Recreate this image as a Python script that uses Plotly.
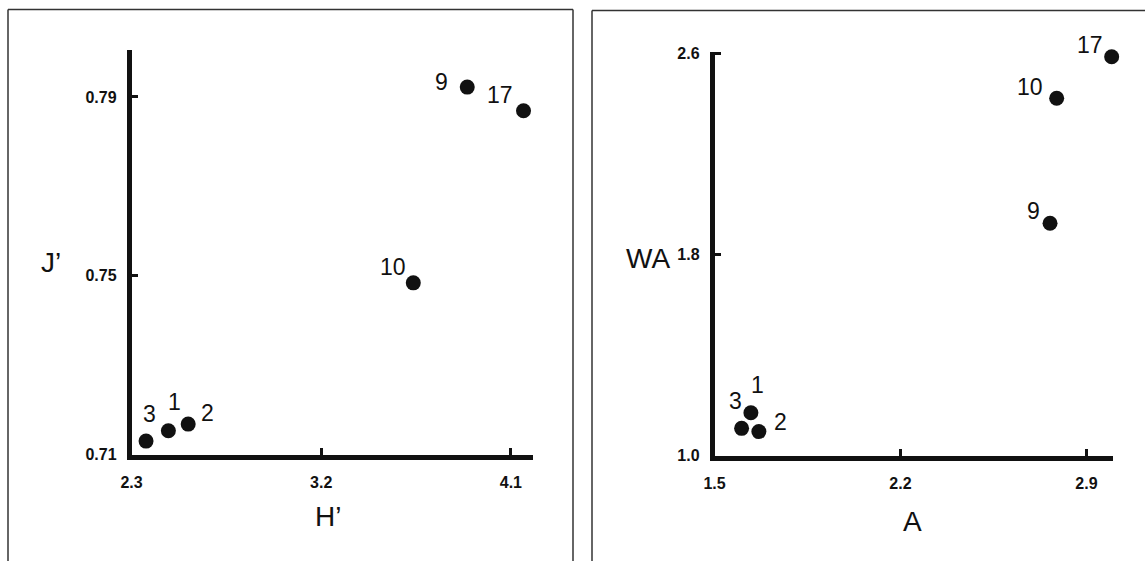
import plotly.graph_objects as go

# ---------------- data ----------------
labels = ["1", "2", "3", "9", "10", "17"]

h_prime = [2.475, 2.569, 2.369, 3.893, 3.637, 4.160]   # H'
j_prime = [0.7153, 0.7168, 0.7130, 0.7922, 0.7484, 0.7869]  # J'

a_vals = [1.637, 1.667, 1.602, 2.763, 2.788, 2.995]    # A
wa_vals = [1.170, 1.095, 1.108, 1.924, 2.421, 2.586]   # WA

left_xticks = [2.3, 3.2, 4.1]
left_yticks = [0.71, 0.75, 0.79]
right_xticks = [1.5, 2.2, 2.9]
right_yticks = [1.0, 1.8, 2.6]
left_xtick_text = ["2.3", "3.2", "4.1"]
left_ytick_text = ["0.71", "0.75", "0.79"]
right_xtick_text = ["1.5", "2.2", "2.9"]
right_ytick_text = ["1.0", "1.8", "2.6"]

# ---------------- style ----------------
W, H = 1145, 561
left_label_shift = {"1": (6, 29), "2": (19, 11), "3": (3, 27), "9": (-26, 5), "10": (-20, 16), "17": (-24, 16)}
right_label_shift = {"1": (7, 28), "2": (22, 10), "3": (-6, 27), "9": (-17, 12), "10": (-27, 11), "17": (-22, 12)}

tick_font = dict(family="Liberation Sans, Arial, sans-serif", size=16, color="#111", weight="bold")
label_font = dict(family="Liberation Sans Narrow, Liberation Sans, Arial, sans-serif", size=23, color="#111")
title_font = dict(family="Liberation Sans, Arial, sans-serif", size=28, color="#111")

def px_x(p):
    return p / W

def px_y(p):
    return 1 - p / H

fig = go.Figure()
fig.add_trace(go.Scatter(x=h_prime, y=j_prime, mode="markers", xaxis="x", yaxis="y", cliponaxis=False,
                         marker=dict(size=15, color="#111"), hoverinfo="skip"))
fig.add_trace(go.Scatter(x=a_vals, y=wa_vals, mode="markers", xaxis="x2", yaxis="y2", cliponaxis=False,
                         marker=dict(size=15, color="#111"), hoverinfo="skip"))

annotations = []
for lab, xv, yv in zip(labels, h_prime, j_prime):
    dx, dy = left_label_shift[lab]
    annotations.append(dict(x=xv, y=yv, xref="x", yref="y", text=lab, showarrow=False,
                            xshift=dx, yshift=dy, font=label_font, xanchor="center", yanchor="middle"))
for lab, xv, yv in zip(labels, a_vals, wa_vals):
    dx, dy = right_label_shift[lab]
    annotations.append(dict(x=xv, y=yv, xref="x2", yref="y2", text=lab, showarrow=False,
                            xshift=dx, yshift=dy, font=label_font, xanchor="center", yanchor="middle"))

annotations += [
    dict(x=px_x(51), y=px_y(262), xref="paper", yref="paper", text="J’", showarrow=False,
         font=title_font, xanchor="center", yanchor="middle"),
    dict(x=px_x(328), y=px_y(516), xref="paper", yref="paper", text="H’", showarrow=False,
         font=title_font, xanchor="center", yanchor="middle"),
    dict(x=px_x(648), y=px_y(258), xref="paper", yref="paper", text="WA", showarrow=False,
         font=title_font, xanchor="center", yanchor="middle"),
    dict(x=px_x(912), y=px_y(521), xref="paper", yref="paper", text="A", showarrow=False,
         font=title_font, xanchor="center", yanchor="middle"),
]

axis_common = dict(showline=True, linewidth=4.5, linecolor="#111", showgrid=False, zeroline=False,
                   ticks="inside", ticklen=7, tickwidth=3, tickcolor="#111", tickfont=tick_font,
                   fixedrange=True, automargin=False)

frame = dict(color="#333", width=1.5)
def seg(x0, y0, x1, y1):
    return dict(type="line", xref="paper", yref="paper", x0=x0, y0=y0, x1=x1, y1=y1, line=frame, layer="below")

shapes = [
    # left panel frame (open at the bottom edge of the picture)
    seg(px_x(8), 0, px_x(8), px_y(9.5)),
    seg(px_x(8), px_y(9.5), px_x(573), px_y(9.5)),
    seg(px_x(573), px_y(9.5), px_x(573), 0),
    # right panel frame (continues past the right edge)
    seg(px_x(592), 0, px_x(592), px_y(10.5)),
    seg(px_x(592), px_y(10.5), 1, px_y(10.5)),
]

fig.update_layout(
    template="none",
    width=W, height=H, margin=dict(l=0, r=0, t=0, b=0, pad=0, autoexpand=False),
    paper_bgcolor="white", plot_bgcolor="white", showlegend=False,
    xaxis=dict(axis_common, domain=[px_x(131.5), px_x(533)], range=[2.3, 4.205],
               tickvals=left_xticks, ticktext=left_xtick_text, anchor="y", ticklabelstandoff=10),
    yaxis=dict(axis_common, domain=[px_y(454.5), px_y(50)], range=[0.71, 0.8005],
               tickvals=left_yticks, ticktext=left_ytick_text, anchor="x", ticklabelstandoff=7),
    xaxis2=dict(axis_common, domain=[px_x(714.5), px_x(1113)], range=[1.5, 3.0],
                tickvals=right_xticks, ticktext=right_xtick_text, anchor="y2", ticklabelstandoff=10),
    yaxis2=dict(axis_common, domain=[px_y(455.5), px_y(51.7)], range=[1.0, 2.606],
                tickvals=right_yticks, ticktext=right_ytick_text, anchor="x2", ticklabelstandoff=7),
    annotations=annotations, shapes=shapes,
)

fig.write_html(
    "out.html",
    config=dict(displayModeBar=False),
    post_script="document.documentElement.style.margin='0';document.documentElement.style.padding='0';"
                "document.body.style.margin='0';document.body.style.padding='0';"
                "document.body.style.overflow='hidden';",
)
